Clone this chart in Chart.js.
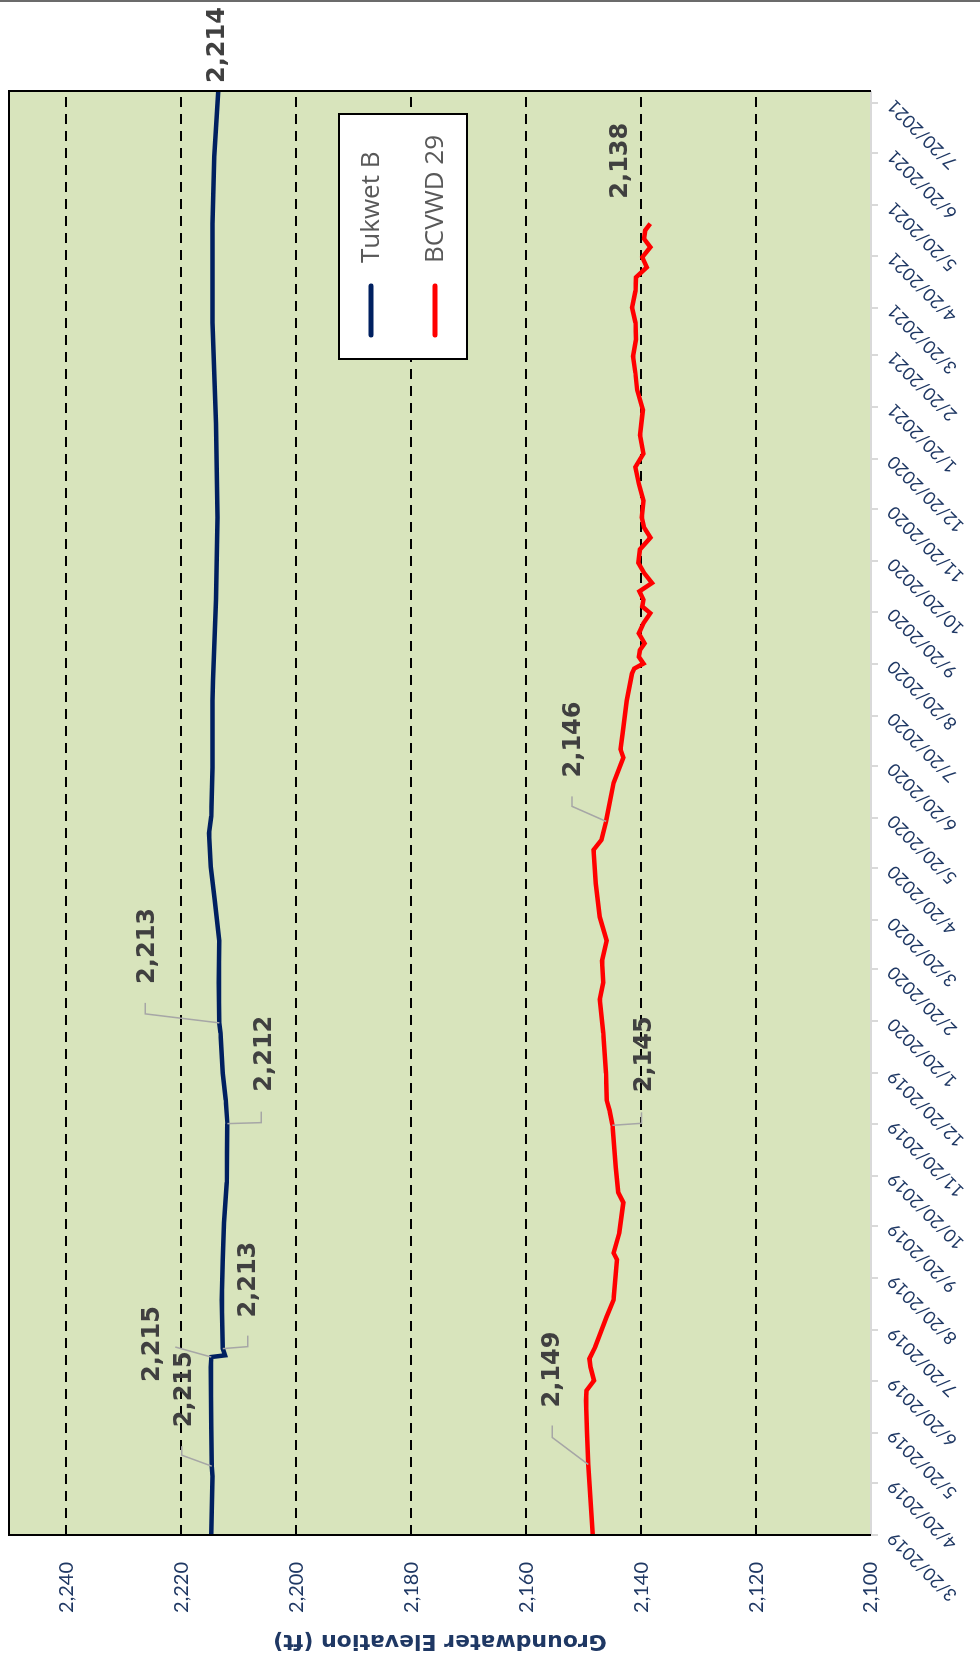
<!DOCTYPE html>
<html>
<head>
<meta charset="utf-8">
<script src="https://cdn.jsdelivr.net/npm/chart.js@4.4.1/dist/chart.umd.min.js"></script>
<style>
  html, body { margin: 0; padding: 0; background: #fff; }
  body { width: 980px; height: 1658px; position: relative; overflow: hidden; }
  #topline { position: absolute; left: 0; top: 0; width: 980px; height: 2px; background: #6b6b6b; }
  /* the chart is drawn landscape and turned a quarter turn to the left */
  #wrap { position: absolute; left: 0; top: 0; width: 1658px; height: 980px;
          transform-origin: 0 0; transform: translate(0, 1658px) rotate(-90deg); }
</style>
</head>
<body>
<div id="wrap"><canvas id="gwChart" width="1658" height="980"></canvas></div>
<div id="topline"></div>
<script>
// Tukwet B
const tukwetDates = [
  '3/20/2019', '4/24/2019', '4/30/2019', '5/24/2019', '6/28/2019', '7/4/2019', '7/5/2019', '7/9/2019',
  '8/7/2019', '8/31/2019', '9/22/2019', '10/16/2019', '11/20/2019', '12/4/2019', '12/20/2019',
  '1/13/2020', '1/19/2020', '2/12/2020', '3/8/2020', '4/1/2020', '4/21/2020', '5/11/2020', '5/21/2020',
  '6/19/2020', '7/29/2020', '8/10/2020', '9/7/2020', '9/27/2020', '11/15/2020',
  '1/10/2021', '3/11/2021', '5/9/2021', '6/18/2021', '7/27/2021'
];
const tukwetValues = [
  2214.8, 2214.6, 2214.7, 2214.8, 2214.9, 2214.8, 2212.4, 2212.8,
  2213.0, 2212.8, 2212.6, 2212.1, 2212.0, 2212.3, 2212.8,
  2213.2, 2213.4, 2213.5, 2213.4, 2214.2, 2214.9, 2215.2, 2214.8,
  2214.6, 2214.6, 2214.5, 2214.2, 2214.0, 2213.7,
  2214.0, 2214.6, 2214.6, 2214.3, 2213.6
];

// BCVWD 29
const bcvwdDates = [
  '3/20/2019', '4/10/2019', '5/1/2019', '5/20/2019', '6/8/2019', '6/14/2019', '6/20/2019', '6/28/2019',
  '7/3/2019', '7/10/2019', '7/28/2019', '8/7/2019', '8/31/2019', '9/4/2019', '9/16/2019', '10/4/2019',
  '10/10/2019', '10/25/2019', '11/19/2019', '11/28/2019', '12/4/2019', '12/20/2019',
  '1/13/2020', '2/2/2020', '2/12/2020', '2/25/2020', '3/8/2020', '3/22/2020', '4/11/2020', '5/1/2020',
  '5/7/2020', '5/18/2020', '6/10/2020', '6/25/2020', '6/30/2020', '7/10/2020', '7/29/2020', '8/14/2020',
  '8/17/2020', '8/20/2020', '8/24/2020', '8/28/2020', '9/1/2020', '9/7/2020', '9/13/2020', '9/19/2020',
  '9/23/2020', '9/27/2020', '10/2/2020', '10/7/2020', '10/13/2020', '10/19/2020', '10/27/2020',
  '11/3/2020', '11/9/2020', '11/15/2020', '11/25/2020', '12/5/2020', '12/15/2020', '12/23/2020',
  '1/3/2021', '1/18/2021', '1/30/2021', '2/9/2021', '2/19/2021', '3/1/2021', '3/11/2021', '3/20/2021',
  '3/30/2021', '4/7/2021', '4/13/2021', '4/19/2021', '4/25/2021', '4/30/2021', '5/5/2021', '5/9/2021'
];
const bcvwdValues = [
  2148.4, 2148.8, 2149.2, 2149.4, 2149.6, 2149.5, 2148.2, 2148.8,
  2149.0, 2148.0, 2146.0, 2144.8, 2144.2, 2144.8, 2143.8, 2143.1,
  2144.0, 2144.4, 2145.0, 2145.5, 2146.0, 2146.1,
  2146.6, 2147.2, 2146.6, 2146.8, 2146.0, 2147.2, 2147.9, 2148.3,
  2146.9, 2146.1, 2144.8, 2143.1, 2143.6, 2143.2, 2142.5, 2141.6,
  2141.2, 2139.6, 2140.4, 2140.2, 2139.4, 2140.4, 2139.6, 2138.4,
  2139.8, 2139.6, 2140.3, 2138.1, 2139.5, 2140.5, 2140.2,
  2138.4, 2139.5, 2139.9, 2139.6, 2140.4, 2141.0, 2139.6,
  2140.2, 2139.7, 2140.7, 2141.0, 2141.4, 2140.9, 2141.0, 2141.6,
  2141.0, 2140.9, 2139.0, 2139.8, 2138.4, 2139.5, 2139.3, 2138.4
];

const seriesNames = ['Tukwet B', 'BCVWD 29'];
const seriesColors = ['#002060', '#FF0000'];

const dateTickLabels = [
  '3/20/2019', '4/20/2019', '5/20/2019', '6/20/2019', '7/20/2019', '8/20/2019', '9/20/2019',
  '10/20/2019', '11/20/2019', '12/20/2019', '1/20/2020', '2/20/2020', '3/20/2020', '4/20/2020',
  '5/20/2020', '6/20/2020', '7/20/2020', '8/20/2020', '9/20/2020', '10/20/2020', '11/20/2020',
  '12/20/2020', '1/20/2021', '2/20/2021', '3/20/2021', '4/20/2021', '5/20/2021', '6/20/2021',
  '7/20/2021'
];
const dateMin = '3/20/2019';
const dateMax = '7/27/2021';

const elevTicks = [2100, 2120, 2140, 2160, 2180, 2200, 2220, 2240];
const elevMin = 2100;
const elevMax = 2250;

// callout labels: which point, where the text sits and the leader path (px from the point)
const callouts = [
  { series: 0, date: '7/27/2021', dx: 8, dy: 0, leader: [] },
  { series: 1, date: '5/9/2021', dx: 25, dy: -30, leader: [] },
  { series: 1, date: '5/18/2020', dx: 44, dy: -32, leader: [[15, -34], [25, -34]] },
  { series: 1, date: '11/19/2019', dx: 33, dy: 32, leader: [[2, 29], [13, 29]] },
  { series: 1, date: '5/1/2019', dx: 57, dy: -35, leader: [[27, -36], [39, -36]] },
  { series: 0, date: '11/20/2019', dx: 32, dy: 37, leader: [[1, 34], [12, 34]] },
  { series: 0, date: '1/19/2020', dx: 39, dy: -72, leader: [[9, -74], [20, -74]] },
  { series: 0, date: '7/9/2019', dx: 31, dy: 26, leader: [[2, 25], [13, 25]] },
  { series: 0, date: '7/4/2019', dx: -25, dy: -59, leader: [[10, -36]] },
  { series: 0, date: '4/30/2019', dx: 39, dy: -27, leader: [[11, -30], [20, -30]] }
];

function toDay(s) {
  const [m, d, y] = s.split('/').map(Number);
  return Date.UTC(y, m - 1, d) / 86400000;
}
function dayLabel(v) {
  const dt = new Date(v * 86400000);
  return (dt.getUTCMonth() + 1) + '/' + dt.getUTCDate() + '/' + dt.getUTCFullYear();
}

const axisBlue = '#1F3864';

const plotFrame = {
  id: 'plotFrame',
  beforeDraw(chart) {
    const { ctx, chartArea: a } = chart;
    ctx.save();
    ctx.fillStyle = '#D8E4BC';
    ctx.fillRect(a.left, a.top, a.width, a.height);
    ctx.restore();
  },
  afterDatasetsDraw(chart) {
    const { ctx, chartArea: a } = chart;
    ctx.save();
    ctx.lineWidth = 2;
    ctx.strokeStyle = '#D9D9D9';
    ctx.beginPath();
    ctx.moveTo(a.left, a.bottom);
    ctx.lineTo(a.right, a.bottom);
    ctx.stroke();
    ctx.strokeStyle = '#000';
    ctx.beginPath();
    ctx.moveTo(a.left, a.bottom);
    ctx.lineTo(a.left, a.top);
    ctx.lineTo(a.right, a.top);
    ctx.lineTo(a.right, a.bottom);
    ctx.stroke();
    ctx.restore();
  }
};

const boxLegend = {
  id: 'boxLegend',
  afterDraw(chart) {
    const { ctx, chartArea: a } = chart;
    const w = 245, h = 128;
    const x0 = a.right - 23 - w, y0 = a.top + 330;
    ctx.save();
    ctx.fillStyle = '#fff';
    ctx.fillRect(x0, y0, w, h);
    ctx.lineWidth = 2;
    ctx.strokeStyle = '#000';
    ctx.strokeRect(x0, y0, w, h);
    chart.data.datasets.forEach((ds, i) => {
      const cy = y0 + 32 + i * 64;
      ctx.strokeStyle = ds.borderColor;
      ctx.lineWidth = 5;
      ctx.lineCap = 'round';
      ctx.beginPath();
      ctx.moveTo(x0 + 24, cy);
      ctx.lineTo(x0 + 73, cy);
      ctx.stroke();
      ctx.fillStyle = '#595959';
      ctx.font = '26px "Open Sans"';
      ctx.textBaseline = 'middle';
      ctx.fillText(ds.label, x0 + 96, cy + 1);
    });
    ctx.restore();
  }
};

const calloutLabels = {
  id: 'calloutLabels',
  afterDraw(chart) {
    const { ctx, scales } = chart;
    ctx.save();
    callouts.forEach(c => {
      const ds = chart.data.datasets[c.series];
      const pt = ds.data.find(p => p.x === toDay(c.date));
      const px = scales.x.getPixelForValue(pt.x);
      const py = scales.y.getPixelForValue(pt.y);
      if (c.leader.length) {
        ctx.strokeStyle = '#A6A6A6';
        ctx.lineWidth = 1.5;
        ctx.beginPath();
        ctx.moveTo(px, py);
        c.leader.forEach(([lx, ly]) => ctx.lineTo(px + lx, py + ly));
        ctx.stroke();
      }
      ctx.fillStyle = '#404040';
      ctx.font = 'bold 24px "DejaVu Sans"';
      ctx.textAlign = 'left';
      ctx.textBaseline = 'middle';
      ctx.fillText(Math.round(pt.y).toLocaleString('en-US'), px + c.dx, py + c.dy);
    });
    ctx.restore();
  }
};

Chart.defaults.font.family = 'Lato';

new Chart(document.getElementById('gwChart').getContext('2d'), {
  type: 'line',
  data: {
    datasets: [
      {
        label: seriesNames[0],
        data: tukwetDates.map((d, i) => ({ x: toDay(d), y: tukwetValues[i] })),
        borderColor: seriesColors[0],
        borderWidth: 4.5,
        pointRadius: 0,
        tension: 0
      },
      {
        label: seriesNames[1],
        data: bcvwdDates.map((d, i) => ({ x: toDay(d), y: bcvwdValues[i] })),
        borderColor: seriesColors[1],
        borderWidth: 4.5,
        pointRadius: 0,
        tension: 0
      }
    ]
  },
  options: {
    responsive: false,
    devicePixelRatio: 1,
    animation: false,
    layout: { autoPadding: false, padding: { left: 0, top: 9, right: 91, bottom: 0 } },
    plugins: {
      legend: { display: false },
      tooltip: { enabled: false }
    },
    scales: {
      x: {
        type: 'linear',
        min: toDay(dateMin),
        max: toDay(dateMax),
        afterBuildTicks: (scale) => {
          scale.ticks = dateTickLabels.map(s => ({ value: toDay(s) }));
        },
        afterFit: (scale) => { scale.height = 109; },
        ticks: {
          autoSkip: false,
          minRotation: 45,
          maxRotation: 45,
          padding: 5,
          color: axisBlue,
          font: { size: 18 },
          callback: (v) => dayLabel(v)
        },
        grid: { drawOnChartArea: false, drawTicks: true, tickLength: 7, color: '#D9D9D9', lineWidth: 2 },
        border: { display: false }
      },
      y: {
        min: elevMin,
        max: elevMax,
        afterBuildTicks: (scale) => {
          scale.ticks = elevTicks.map(v => ({ value: v }));
        },
        afterFit: (scale) => { scale.width = 123; },
        ticks: {
          padding: 0,
          color: axisBlue,
          font: { size: 20, lineHeight: 0.85 },
          callback: (v) => v.toLocaleString('en-US')
        },
        grid: {
          drawTicks: true,
          tickLength: 27,
          tickColor: 'rgba(0,0,0,0)',
          lineWidth: 2,
          color: (ctx) => (ctx.tick && ctx.tick.value === elevMin ? 'rgba(0,0,0,0)' : '#000')
        },
        border: { display: false, dash: [10, 7] },
        title: {
          display: true,
          text: 'Groundwater Elevation (ft)',
          color: axisBlue,
          font: { family: 'DejaVu Sans', size: 22, weight: 'bold' },
          padding: { top: 4, bottom: 0 }
        }
      }
    }
  },
  plugins: [plotFrame, boxLegend, calloutLabels]
});
</script>
</body>
</html>
